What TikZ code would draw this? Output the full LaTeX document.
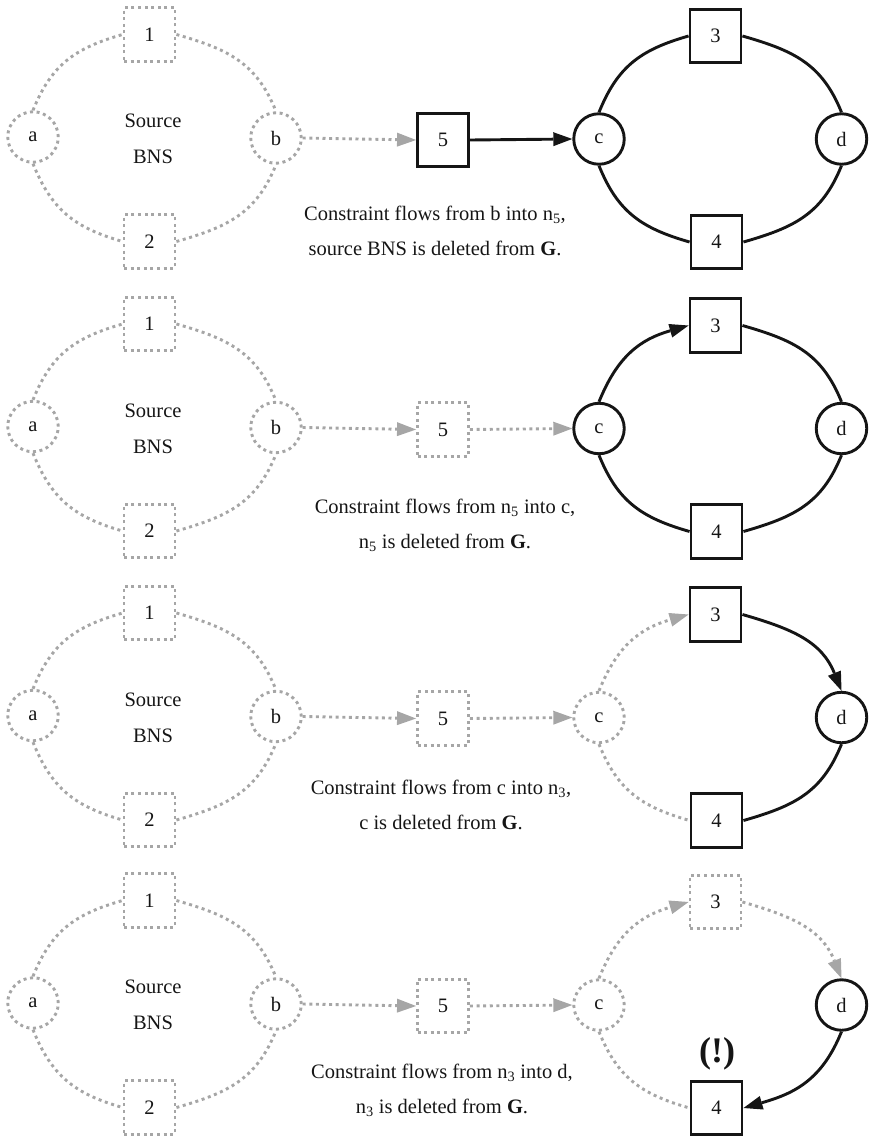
\documentclass[tikz,border=0pt]{standalone}
\usepackage{fontspec}
\setmainfont{Liberation Serif}
\usetikzlibrary{arrows.meta}

\definecolor{ink}{HTML}{151515}
\definecolor{faded}{HTML}{A6A6A6}

\tikzset{
  base/.style={font=\fontsize{20.5}{24}\selectfont, text=ink, inner sep=0pt},
  livecirc/.style={base, circle, draw=ink, line width=2.9pt, minimum size=50.5pt},
  livebox/.style={base, rectangle, draw=ink, line width=2.9pt,
    minimum width=51pt, minimum height=53.5pt},
  deadcirc/.style={livecirc, draw=faded, dash pattern=on 3pt off 3.6pt},
  deadbox/.style={livebox, draw=faded, dash pattern=on 3pt off 3.6pt},
  liveedge/.style={draw=ink, line width=2.9pt},
  deadedge/.style={draw=faded, line width=2.9pt, dash pattern=on 3pt off 3.6pt},
  tip/.style={-{Triangle[length=19pt,width=14pt,line width=0pt]}},
  upl/.style={out=68, in=196, looseness=1.08},
  upr/.style={out=-16, in=112, looseness=1.08},
  lowl/.style={out=-68, in=164, looseness=1.08},
  lowr/.style={out=16, in=-112, looseness=1.08},
  lowrback/.style={out=-112, in=16, looseness=1.08},
  caption/.style={base, align=center, font=\fontsize{20.5}{35}\selectfont},
  alarm/.style={base, font=\fontsize{36}{40}\selectfont\bfseries}
}

% the faded source ring a-1-b-2 shared by every step
\newcommand\sourcering[1]{%
  \node[deadcirc] (a#1) at (33,-137) {a};
  \node[deadcirc] (b#1) at (276,-138) {b};
  \node[deadbox] (one#1) at (149.5,-34.5) {1};
  \node[deadbox] (two#1) at (149.5,-241.5) {2};
  \node[base, align=center, font=\fontsize{20.5}{36}\selectfont] (src#1) at (153,-139) {Source\\BNS};
  \draw[deadedge] (a#1.north) to[upl] (one#1.west);
  \draw[deadedge] (one#1.east) to[upr] (b#1.north);
  \draw[deadedge] (a#1.south) to[lowl] (two#1.west);
  \draw[deadedge] (two#1.east) to[lowr] (b#1.south);
}

% the target ring c-3-d-4 with the bridge node 5
\newcommand\targetnodes[6]{%
  \node[#2] (five#1) at (443,-140) {5};
  \node[#3] (c#1) at (599,-139) {c};
  \node[#4] (three#1) at (715.5,-36) {3};
  \node[#5] (four#1) at (716.5,-242) {4};
  \node[#6] (d#1) at (841.5,-139) {d};
  \draw[deadedge, tip] (b#1.east) -- (five#1.west);
}

\begin{document}
\begin{tikzpicture}[x=1pt, y=1pt]
\useasboundingbox (0,0) rectangle (870,-1140);

% step 1
\begin{scope}
  \sourcering{1}
  \targetnodes{1}{livebox}{livecirc}{livebox}{livebox}{livecirc}
  \draw[liveedge, tip] (five1.east) -- (c1.west);
  \draw[liveedge] (c1.north) to[upl] (three1.west);
  \draw[liveedge] (three1.east) to[upr] (d1.north);
  \draw[liveedge] (c1.south) to[lowl] (four1.west);
  \draw[liveedge] (four1.east) to[lowr] (d1.south);
  \node[caption] (cap1) at (435,-230.5)
    {Constraint flows from b into n\textsubscript{5},\\source BNS is deleted from \textbf{G}.};
\end{scope}

% step 2
\begin{scope}[yshift=-289.5pt]
  \sourcering{2}
  \targetnodes{2}{deadbox}{livecirc}{livebox}{livebox}{livecirc}
  \draw[deadedge, tip] (five2.east) -- (c2.west);
  \draw[liveedge, tip] (c2.north) to[upl] (three2.west);
  \draw[liveedge] (three2.east) to[upr] (d2.north);
  \draw[liveedge] (c2.south) to[lowl] (four2.west);
  \draw[liveedge] (four2.east) to[lowr] (d2.south);
  \node[caption] (cap2) at (445,-235.5)
    {Constraint flows from n\textsubscript{5} into c,\\n\textsubscript{5} is deleted from \textbf{G}.};
\end{scope}

% step 3
\begin{scope}[yshift=-578.5pt]
  \sourcering{3}
  \targetnodes{3}{deadbox}{deadcirc}{livebox}{livebox}{livecirc}
  \draw[deadedge, tip] (five3.east) -- (c3.west);
  \draw[deadedge, tip] (c3.north) to[upl] (three3.west);
  \draw[liveedge, tip] (three3.east) to[upr] (d3.north);
  \draw[deadedge] (c3.south) to[lowl] (four3.west);
  \draw[liveedge] (four3.east) to[lowr] (d3.south);
  \node[caption] (cap3) at (441,-226.5)
    {Constraint flows from c into n\textsubscript{3},\\c is deleted from \textbf{G}.};
\end{scope}

% step 4
\begin{scope}[yshift=-866pt]
  \sourcering{4}
  \targetnodes{4}{deadbox}{deadcirc}{deadbox}{livebox}{livecirc}
  \draw[deadedge, tip] (five4.east) -- (c4.west);
  \draw[deadedge, tip] (c4.north) to[upl] (three4.west);
  \draw[deadedge, tip] (three4.east) to[upr] (d4.north);
  \draw[deadedge] (c4.south) to[lowl] (four4.west);
  \draw[liveedge, tip] (d4.south) to[lowrback] (four4.east);
  \node[alarm] (warn4) at (717,-188) {(!)};
  \node[caption] (cap4) at (442,-224.5)
    {Constraint flows from n\textsubscript{3} into d,\\n\textsubscript{3} is deleted from \textbf{G}.};
\end{scope}
\end{tikzpicture}
\end{document}
